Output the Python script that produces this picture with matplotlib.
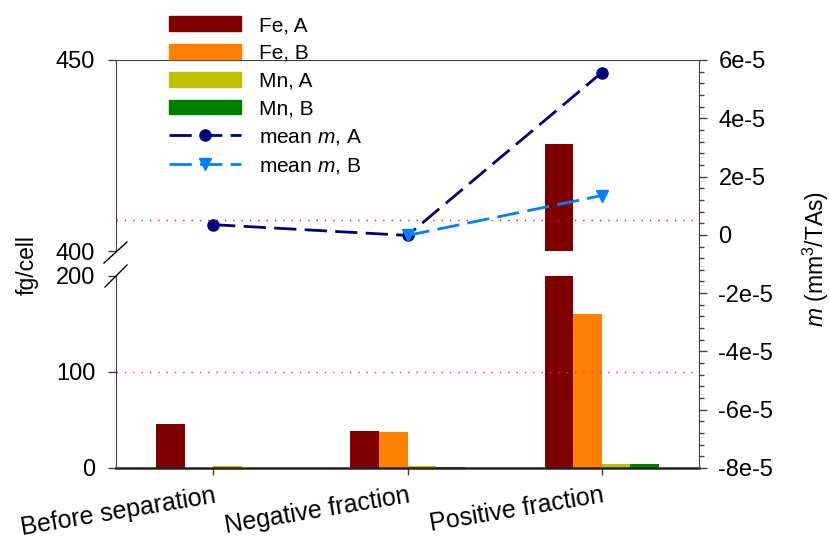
import numpy as np
import matplotlib
matplotlib.use('Agg')
import matplotlib.pyplot as plt
from matplotlib.lines import Line2D
from matplotlib.patches import Patch
from matplotlib.ticker import MultipleLocator, FuncFormatter

plt.rcParams['font.family'] = ['Liberation Sans', 'DejaVu Sans']
plt.rcParams['mathtext.fontset'] = 'custom'
plt.rcParams['mathtext.rm'] = 'Liberation Sans'
plt.rcParams['mathtext.it'] = 'Liberation Sans:italic'
plt.rcParams['axes.unicode_minus'] = False

categories = ['Before separation', 'Negative fraction', 'Positive fraction']
fe_a = [46, 39, 428]
fe_b = [np.nan, 37.5, 160]
mn_a = [2, 1.8, 4.5]
mn_b = [np.nan, 1.3, 4.5]
m_a = [0.35e-5, -0.02e-5, 5.57e-5]
m_b = [np.nan, -0.02e-5, 1.35e-5]

W, H = 830, 538
fig = plt.figure(figsize=(W / 100, H / 100), dpi=100)

def rect(x0, y0, x1, y1):
    return [x0 / W, 1 - y1 / H, (x1 - x0) / W, (y1 - y0) / H]

ax_top = fig.add_axes(rect(116, 60, 699, 251))
ax_bot = fig.add_axes(rect(116, 276, 699, 468))
ax_r = fig.add_axes(rect(116, 60, 699, 468))

x = np.arange(len(categories))
w = 0.147
colors = ['#800000', '#FF8000', '#C0C000', '#008000']
names = ['Fe, A', 'Fe, B', 'Mn, A', 'Mn, B']
spine_c = '#404040'

for ax in (ax_top, ax_bot):
    for i, (vals, c) in enumerate(zip([fe_a, fe_b, mn_a, mn_b], colors)):
        ax.bar(x + (i - 1.5) * w, vals, w, color=c, linewidth=0)
    ax.set_xlim(-0.5, 2.5)
    ax.set_facecolor('none')
    for s in ('top', 'right'):
        ax.spines[s].set_visible(False)
    ax.spines['left'].set_color(spine_c)
    ax.tick_params(axis='y', direction='out', length=6, width=1, pad=9,
                   labelsize=17, color=spine_c)

ax_top.set_ylim(400, 450)
ax_top.set_yticks([400, 450])
ax_top.spines['bottom'].set_visible(False)
ax_top.set_xticks([])
ax_top.axhline(408, color='red', lw=1, ls=(0, (1, 5)))

ax_bot.set_ylim(0, 200)
ax_bot.set_yticks([0, 100, 200])
ax_bot.spines['bottom'].set_linewidth(1.8)
ax_bot.spines['bottom'].set_color('#222222')
ax_bot.axhline(100, color='#FF00FF', lw=1, ls=(0, (1, 5)))
ax_bot.set_xticks(x)
ax_bot.set_xticklabels(categories, rotation=9.5, ha='right', va='top',
                       rotation_mode='anchor', fontsize=18)
ax_bot.tick_params(axis='x', direction='out', length=5, width=1, pad=6,
                   color=spine_c)

# right axis with mean m lines
ax_r.set_facecolor('none')
ax_r.set_xlim(-0.5, 2.5)
ax_r.set_ylim(-8e-5, 6e-5)
ax_r.plot(x, m_a, color='#000080', lw=2, ls=(0, (8, 3)), marker='o', ms=8,
          label='mean $m$, A', zorder=3)
ax_r.plot(x, m_b, color='#0080FF', lw=2, ls=(0, (8, 3)), marker='v', ms=8,
          label='mean $m$, B', zorder=4)
ax_r.spines['left'].set_visible(False)
ax_r.spines['bottom'].set_visible(False)
ax_r.spines['top'].set_color(spine_c)
ax_r.spines['right'].set_color(spine_c)
ax_r.set_xticks([])
ax_r.yaxis.tick_right()
ax_r.yaxis.set_major_locator(MultipleLocator(2e-5))
ax_r.yaxis.set_minor_locator(MultipleLocator(0.4e-5))
ax_r.yaxis.set_major_formatter(FuncFormatter(
    lambda v, p: '0' if abs(v) < 1e-12 else f'{v / 1e-5:.0f}e-5'))
ax_r.tick_params(axis='y', which='major', direction='out', length=6, width=1,
                 pad=8, labelsize=17, color=spine_c)
ax_r.tick_params(axis='y', which='minor', direction='out', length=3.5,
                 width=1, color=spine_c)

# break marks
for (x0, y0, x1, y1) in [(104, 263, 127, 242), (105, 287, 127, 265)]:
    fig.add_artist(Line2D([x0 / W, x1 / W], [1 - y0 / H, 1 - y1 / H],
                          transform=fig.transFigure, color='black', lw=1))

fig.text(27 / W, 1 - 265 / H, 'fg/cell', rotation=90, ha='center',
         va='center', fontsize=16.5)
fig.text(816 / W, 1 - 259 / H, '$m$ (mm$^3$/TAs)', rotation=90, ha='center',
         va='center', fontsize=16.5)

handles = [Patch(color=c) for c in colors] + ax_r.get_lines()
labels = names + ['mean $m$, A', 'mean $m$, B']
fig.legend(handles, labels, loc='upper left',
           bbox_to_anchor=(169 / W, 1 - 16 / H), frameon=False, fontsize=15,
           handlelength=3.45, handletextpad=0.85, labelspacing=0.42,
           borderpad=0, borderaxespad=0, numpoints=1)

fig.savefig('out.png', dpi=100)
